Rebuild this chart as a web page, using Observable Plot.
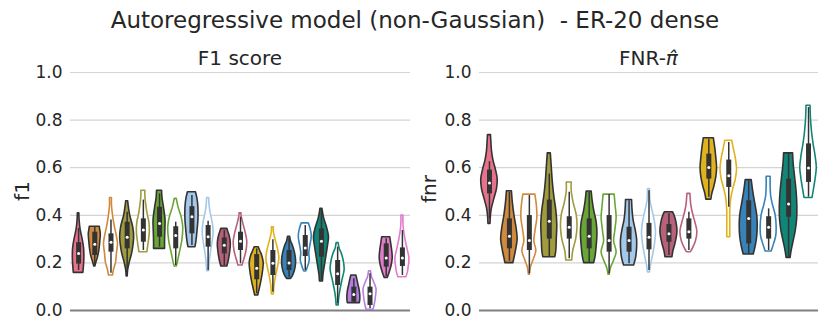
<!DOCTYPE html>
<html><head><meta charset="utf-8">
<script src="https://cdn.jsdelivr.net/npm/d3@7"></script>
<script src="https://cdn.jsdelivr.net/npm/@observablehq/plot@0.6"></script>
<style>
body{margin:0;background:#fff;font-family:"DejaVu Sans",sans-serif;color:#262626;}
#wrap{position:relative;width:830px;height:332px;overflow:hidden;}
.abs{position:absolute;}
#title{top:4px;left:0;width:830px;text-align:center;font-size:23px;line-height:32px;}
.sub{top:44px;height:28px;line-height:28px;font-size:20px;text-align:center;}
.ylab{font-size:20px;transform:rotate(-90deg);transform-origin:center;width:60px;text-align:center;line-height:22px;}
</style></head><body>
<div id="wrap">
  <div id="title" class="abs">Autoregressive model (non-Gaussian)&nbsp; - ER-20 dense</div>
  <div class="abs sub" style="left:70px;width:340px;">F1 score</div>
  <div class="abs sub" style="left:479px;width:339px;">FNR-<i>π̂</i></div>
  <div class="abs ylab" style="left:-8px;top:180px;">f1</div>
  <div class="abs ylab" style="left:399px;top:178px;">fnr</div>
  <div id="left" class="abs" style="left:0;top:62px;"></div>
  <div id="right" class="abs" style="left:415px;top:62px;"></div>
</div>
<script>
// method colour groups (pairs: filled / outline)
const palette = {
  pink: "#e8718c", orange: "#d08a3e", olive: "#a09b3c", green: "#6aa636",
  lightblue: "#a4c8ea", mauve: "#b8617b", gold: "#dfb21e", blue: "#3782b8",
  teal: "#118676", purple: "#b77ee2", magenta: "#e27ccb"
};
const f1Colors = ["pink","orange","orange","olive","olive","green","green","lightblue","lightblue","mauve","mauve","gold","gold","blue","blue","teal","teal","purple","purple","magenta","magenta"];
const f1Filled = [1,1,0,1,0,1,0,1,0,1,0,1,0,1,0,1,0,1,0,1,0];
const fnrColors = ["pink","orange","orange","olive","olive","green","green","lightblue","lightblue","mauve","mauve","gold","gold","blue","blue","teal","teal"];
const fnrFilled = [1,1,0,1,0,1,0,1,0,1,0,1,0,1,0,1,0];

// box summary: [lower whisker, q1, median, q3, upper whisker]
const f1Stats = [
  [0.168,0.195,0.24,0.285,0.345],[0.189,0.231,0.278,0.329,0.352],[0.157,0.245,0.287,0.322,0.38],
  [0.147,0.259,0.308,0.371,0.413],[0.252,0.287,0.338,0.385,0.464],[0.266,0.308,0.366,0.434,0.49],
  [0.189,0.259,0.315,0.352,0.371],[0.273,0.322,0.394,0.436,0.483],[0.168,0.266,0.31,0.357,0.375],
  [0.189,0.238,0.274,0.305,0.336],[0.196,0.252,0.291,0.329,0.392],[0.07,0.129,0.178,0.235,0.259],
  [0.077,0.147,0.199,0.252,0.297],[0.14,0.168,0.2,0.252,0.305],[0.168,0.227,0.263,0.315,0.357],
  [0.126,0.224,0.291,0.343,0.42],[0.028,0.105,0.154,0.21,0.266],[0.031,0.035,0.067,0.098,0.133],
  [0.007,0.021,0.07,0.098,0.154],[0.143,0.182,0.221,0.28,0.301],[0.147,0.185,0.221,0.263,0.336]
];
// density profiles: [value, density]
const f1Density = [
  [[0.158,9.5],[0.18,10.5],[0.22,11.5],[0.26,11],[0.30,8],[0.34,4],[0.38,2],[0.408,1.5]],
  [[0.185,1],[0.20,3],[0.22,6],[0.25,9],[0.29,11],[0.32,12],[0.35,10],[0.352,10]],
  [[0.147,4],[0.17,6],[0.20,10],[0.24,12],[0.28,14],[0.32,11],[0.36,7],[0.40,4],[0.44,2],[0.473,2]],
  [[0.143,1],[0.17,2],[0.20,5],[0.24,10],[0.28,13],[0.31,14],[0.35,12],[0.40,6],[0.44,3],[0.459,2]],
  [[0.245,8],[0.26,9],[0.29,11],[0.33,13],[0.37,12],[0.40,9],[0.44,6],[0.48,4],[0.503,4]],
  [[0.259,11],[0.29,11],[0.33,11.5],[0.38,12],[0.43,9],[0.47,6],[0.503,5]],
  [[0.185,2],[0.20,4],[0.24,8],[0.29,13],[0.35,15],[0.39,12],[0.43,6],[0.469,2]],
  [[0.266,7],[0.29,9],[0.33,11],[0.38,13],[0.43,13],[0.47,11],[0.497,8]],
  [[0.165,2],[0.20,3],[0.25,6],[0.29,9],[0.33,11],[0.37,9],[0.41,5],[0.44,3],[0.473,2]],
  [[0.185,6],[0.21,9],[0.25,12],[0.28,13],[0.31,11],[0.33,8],[0.343,6]],
  [[0.189,4],[0.21,7],[0.25,12],[0.29,13.5],[0.33,10],[0.37,5],[0.40,2],[0.408,2]],
  [[0.063,3],[0.09,6],[0.13,10],[0.17,13],[0.20,14],[0.23,11],[0.25,7],[0.266,4]],
  [[0.067,2],[0.10,3],[0.14,6],[0.18,10],[0.22,13],[0.26,10],[0.30,5],[0.33,2],[0.35,2]],
  [[0.133,4],[0.15,9],[0.18,13],[0.21,14],[0.24,12],[0.27,8],[0.29,4],[0.31,2]],
  [[0.164,2],[0.18,5],[0.21,9],[0.24,8],[0.27,10],[0.31,13],[0.34,11],[0.366,7]],
  [[0.122,3],[0.15,4],[0.19,7],[0.23,10],[0.27,13],[0.31,15],[0.35,11],[0.39,5],[0.427,2]],
  [[0.021,2],[0.05,3],[0.09,6],[0.13,10],[0.17,14],[0.21,12],[0.24,8],[0.26,4],[0.283,2]],
  [[0.031,12],[0.05,13],[0.08,12],[0.11,9],[0.13,7],[0.147,5]],
  [[0.003,7],[0.03,10],[0.06,12],[0.09,13],[0.12,8],[0.14,4],[0.165,2]],
  [[0.137,3],[0.16,7],[0.19,11],[0.22,13],[0.25,12],[0.28,10],[0.308,8]],
  [[0.14,8],[0.16,11],[0.19,13],[0.22,14],[0.26,10],[0.30,6],[0.34,3],[0.37,2],[0.399,2]]
];

const fnrStats = [
  [0.385,0.49,0.536,0.59,0.625],[0.207,0.259,0.312,0.385,0.497],[0.154,0.252,0.294,0.399,0.483],
  [0.227,0.30,0.375,0.464,0.573],[0.217,0.30,0.35,0.394,0.497],[0.203,0.259,0.312,0.385,0.497],
  [0.154,0.245,0.294,0.399,0.487],[0.196,0.245,0.294,0.35,0.461],[0.168,0.255,0.308,0.366,0.503],
  [0.231,0.287,0.322,0.361,0.406],[0.252,0.30,0.331,0.385,0.413],[0.476,0.552,0.601,0.657,0.72],
  [0.434,0.517,0.566,0.632,0.706],[0.238,0.28,0.387,0.461,0.545],[0.252,0.30,0.35,0.394,0.427],
  [0.224,0.392,0.448,0.552,0.657],[0.476,0.538,0.599,0.70,0.853]
];
const fnrDensity = [
  [[0.364,2],[0.40,3],[0.43,5],[0.47,10],[0.51,15],[0.55,16.5],[0.59,13],[0.63,8],[0.67,5],[0.70,4],[0.737,3]],
  [[0.199,8],[0.22,10],[0.25,13],[0.30,16.5],[0.35,14],[0.40,10],[0.45,7],[0.501,5]],
  [[0.15,1],[0.18,3],[0.21,8],[0.25,14],[0.29,10],[0.33,12],[0.39,16],[0.44,15],[0.487,12]],
  [[0.224,12],[0.25,14],[0.30,15],[0.36,16],[0.42,14],[0.48,10],[0.54,7],[0.60,5],[0.66,3]],
  [[0.21,6],[0.25,8],[0.30,14],[0.35,16.5],[0.40,15],[0.45,9],[0.50,5],[0.538,5]],
  [[0.199,10],[0.23,13],[0.27,15],[0.32,16.5],[0.37,15],[0.42,10],[0.46,7],[0.50,5]],
  [[0.15,1],[0.18,4],[0.21,10],[0.245,15],[0.29,10],[0.33,12],[0.39,15],[0.44,13],[0.487,11]],
  [[0.189,10],[0.22,14],[0.26,16],[0.30,16],[0.34,13],[0.38,9],[0.42,7],[0.464,6]],
  [[0.16,2],[0.19,4],[0.23,8],[0.28,12],[0.33,14],[0.37,12],[0.42,7],[0.46,3],[0.51,2]],
  [[0.224,7],[0.25,9],[0.28,13],[0.33,17],[0.37,15],[0.40,11],[0.413,8]],
  [[0.245,4],[0.26,8],[0.29,14],[0.33,17],[0.37,13],[0.40,9],[0.44,5],[0.49,3]],
  [[0.466,5],[0.49,7],[0.52,11],[0.56,15],[0.60,16.5],[0.64,15],[0.68,13],[0.724,10]],
  [[0.308,3],[0.36,3],[0.42,3],[0.47,5],[0.51,9],[0.55,14],[0.59,16.5],[0.64,14],[0.68,10],[0.713,7]],
  [[0.235,10],[0.27,14],[0.31,17],[0.36,18],[0.40,17],[0.45,13],[0.50,9],[0.548,6]],
  [[0.248,6],[0.28,11],[0.31,15],[0.35,16],[0.40,14],[0.44,9],[0.48,5],[0.52,4],[0.562,4]],
  [[0.221,4],[0.25,6],[0.29,10],[0.33,14],[0.38,17],[0.44,17.5],[0.50,16],[0.56,13],[0.62,10],[0.66,9]],
  [[0.473,8],[0.51,11],[0.55,14],[0.60,16.5],[0.65,14],[0.70,10],[0.75,7],[0.80,5],[0.86,4]]
];
const yTicks = [0, 0.2, 0.4, 0.6, 0.8, 1.0];

function panel(stats, density, colors, filled, opts) {
  const n = stats.length;
  const pxPerCat = (opts.width - opts.marginLeft - opts.marginRight) / n;
  const rows = [];
  density.forEach((prof, i) => {
    const col = palette[colors[i]];
    prof.forEach(([v, d]) => {
      const h = d / pxPerCat / 2;
      rows.push({i, v, x1: i - h, x2: i + h,
        fill: filled[i] ? col : "#ffffff", stroke: filled[i] ? "#333333" : col});
    });
  });
  const boxes = stats.map((s, i) => ({i, lo: s[0], q1: s[1], med: s[2], q3: s[3], hi: s[4]}));
  return Plot.plot({
    ...opts,
    style: {fontFamily: "DejaVu Sans, sans-serif", fontSize: "17px", color: "#262626", background: "transparent", overflow: "visible"},
    x: {domain: [-0.5, n - 0.5], axis: null},
    y: {domain: [0, 1], ticks: yTicks, tickFormat: ".1f", label: null, tickSize: 0, tickPadding: 8},
    color: {type: "identity"},
    marks: [
      Plot.gridY(yTicks.filter(t => t > 0), {stroke: "#d4d4d4", strokeOpacity: 1, strokeWidth: 1.2}),
      Plot.ruleY([0], {stroke: "#808080", strokeWidth: 2}),
      Plot.areaX(rows, {y: "v", x1: "x1", x2: "x2", z: "i", fill: "fill", stroke: "stroke", strokeWidth: 1.6, curve: "catmull-rom"}),
      Plot.ruleX(boxes, {x: "i", y1: "lo", y2: "hi", stroke: "#333333", strokeWidth: 1.5}),
      Plot.ruleX(boxes, {x: "i", y1: "q1", y2: "q3", stroke: "#333333", strokeWidth: 5}),
      Plot.dot(boxes, {x: "i", y: "med", r: 1.5, fill: "#ffffff", stroke: null})
    ]
  });
}

document.getElementById("left").append(panel(f1Stats, f1Density, f1Colors, f1Filled,
  {width: 415, height: 262, marginLeft: 70, marginRight: 5, marginTop: 10, marginBottom: 14}));
document.getElementById("right").append(panel(fnrStats, fnrDensity, fnrColors, fnrFilled,
  {width: 415, height: 262, marginLeft: 64, marginRight: 12, marginTop: 10, marginBottom: 14}));
</script>
</body></html>
